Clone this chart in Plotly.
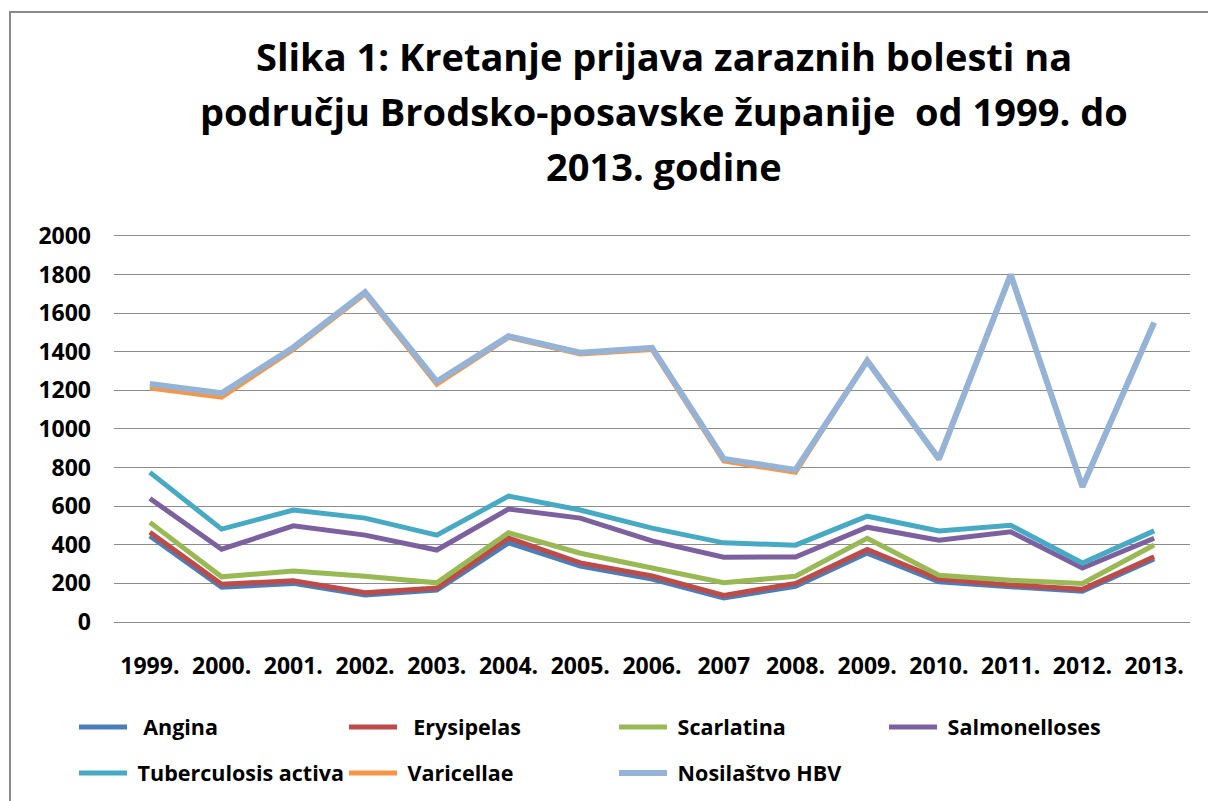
import plotly.graph_objects as go

years = ["1999.", "2000.", "2001.", "2002.", "2003.", "2004.", "2005.", "2006.",
         "2007", "2008.", "2009.", "2010.", "2011.", "2012.", "2013."]

angina = [445, 180, 200, 140, 165, 410, 290, 222, 125, 185, 357, 208, 183, 160, 326]
erysipelas = [465, 196, 213, 152, 176, 435, 306, 238, 138, 200, 376, 222, 192, 170, 338]
scarlatina = [516, 234, 264, 237, 203, 462, 356, 279, 203, 237, 434, 242, 216, 200, 399]
salmonelloses = [640, 377, 498, 450, 373, 585, 538, 420, 336, 337, 491, 424, 467, 280, 434]
tuberculosis = [775, 481, 580, 538, 450, 652, 580, 486, 410, 398, 548, 472, 501, 306, 472]
varicellae = [1212, 1165, 1412, 1700, 1232, 1474, 1388, 1412, 834, 775, 1357, 843, 1797, 700, 1550]
hbv = [1233, 1185, 1422, 1708, 1245, 1480, 1395, 1420, 845, 788, 1352, 845, 1800, 700, 1551]

title_lines = [
    "Slika 1: Kretanje prijava zaraznih bolesti na",
    "području Brodsko-posavske županije  od 1999. do",
    "2013. godine",
]

series = [
    ("  Angina", angina, "#4A7EBB", 5, "legend"),
    ("  Erysipelas", erysipelas, "#BE4B48", 5, "legend"),
    (" Scarlatina", scarlatina, "#98B954", 5, "legend"),
    (" Salmonelloses", salmonelloses, "#7D60A0", 5, "legend"),
    (" Tuberculosis activa", tuberculosis, "#46AAC5", 5, "legend2"),
    (" Varicellae", varicellae, "#F79646", 5, "legend2"),
    (" Nosilaštvo HBV", hbv, "#95B3D7", 6, "legend2"),
]

FONT = "Open Sans, Lato, sans-serif"

fig = go.Figure()
for name, vals, color, w, lg in series:
    fig.add_trace(go.Scatter(x=years, y=vals, name=name, mode="lines",
                             line=dict(color=color, width=w), legend=lg))

W, H = 1208, 801
L, R, T, B = 114, W - 1190, 232, H - 622
pw, ph = W - L - R, H - T - B
YMAX = 2000
YTOP = 2020

def px_x(x):
    return (x - L) / pw

def px_y(y):
    return (H - B - y) / ph

annotations = []
for i, line in enumerate(title_lines):
    annotations.append(dict(
        text="<b>" + line + "</b>", xref="paper", yref="paper",
        x=px_x(664), y=px_y(56 + 55 * i), xanchor="center", yanchor="middle",
        showarrow=False, font=dict(size=38, family=FONT, color="black"),
    ))

legend_common = dict(
    orientation="h", x=74 / W, xanchor="left", xref="container",
    yanchor="middle", yref="container",
    entrywidth=207, entrywidthmode="pixels", itemwidth=48,
    font=dict(size=21.5, family=FONT, weight="bold", color="black"),
    bgcolor="rgba(0,0,0,0)",
)

fig.update_layout(
    width=W, height=H,
    margin=dict(l=L, r=R, t=T, b=B, pad=0),
    paper_bgcolor="white", plot_bgcolor="white",
    font=dict(family=FONT, color="black"),
    annotations=annotations,
    xaxis=dict(
        type="category", showgrid=False, showline=False, zeroline=False,
        ticks="", ticklabelstandoff=28,
        tickfont=dict(size=23, family=FONT, weight="bold", color="black"),
        range=[-0.5, len(years) - 0.5],
    ),
    yaxis=dict(
        range=[0, YTOP], tickvals=list(range(0, YMAX + 1, 200)),
        showgrid=True, gridcolor="#8C8C8C", gridwidth=1,
        zeroline=True, zerolinecolor="#8C8C8C", zerolinewidth=1, showline=False,
        ticks="", ticklabelstandoff=22,
        tickfont=dict(size=23, family=FONT, weight="bold", color="black"),
    ),
    legend=dict(legend_common, y=1 - 727 / H),
    legend2=dict(legend_common, y=1 - 773 / H),
    shapes=[dict(type="rect", xref="paper", yref="paper",
                 x0=px_x(10), x1=px_x(1260), y0=px_y(860), y1=px_y(12),
                 line=dict(color="#8A8A8A", width=2), fillcolor="rgba(0,0,0,0)", layer="below")],
)

fig.write_html("out.html", config={"displayModeBar": False},
               post_script="document.body.style.margin='0';")
